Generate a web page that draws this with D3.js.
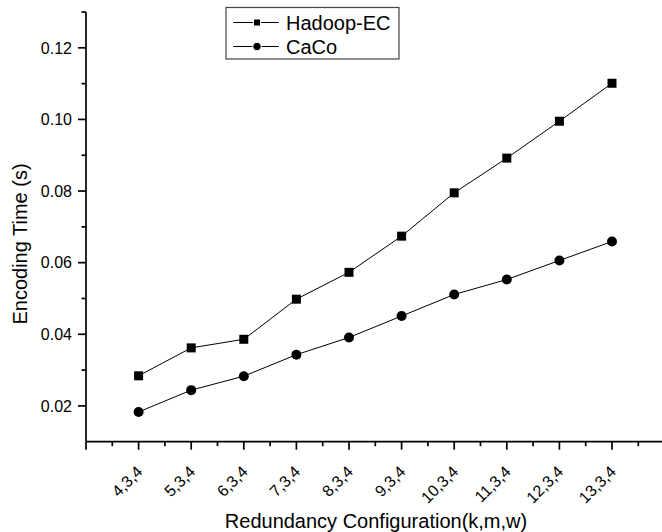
<!DOCTYPE html>
<html>
<head>
<meta charset="utf-8">
<script src="https://cdn.jsdelivr.net/npm/d3@7"></script>
<style>
  html, body { margin: 0; padding: 0; background: #fff; }
  svg { display: block; font-family: "Liberation Sans", Arial, sans-serif; }
</style>
</head>
<body>
<svg id="chart" width="662" height="532"></svg>
<script>
// ---- data ----
const categories = ["4,3,4","5,3,4","6,3,4","7,3,4","8,3,4","9,3,4","10,3,4","11,3,4","12,3,4","13,3,4"];
const categoryPos = [4,5,6,7,8,9,10,11,12,13];
const hadoopEC = [0.0284,0.0362,0.0386,0.0498,0.0573,0.0674,0.0795,0.0892,0.0995,0.1101];
const caco     = [0.0183,0.0244,0.0283,0.0343,0.0391,0.0451,0.0511,0.0553,0.0606,0.0659];
const seriesNames = ["Hadoop-EC","CaCo"];
const yTickValues = [0.02,0.04,0.06,0.08,0.10,0.12];
const yMinorValues = [0.03,0.05,0.07,0.09,0.11,0.13];
const xMinorValues = [3.5,4.5,5.5,6.5,7.5,8.5,9.5,10.5,11.5,12.5,13.5];
const xMajorValues = [3,4,5,6,7,8,9,10,11,12,13,14];

const svg = d3.select("#chart");
const x = d3.scaleLinear().domain([3, 14]).range([86, 664.6]);
const y = d3.scaleLinear().domain([0.01, 0.13]).range([441.7, 12]);

// ---- axes ----
const axisColor = "#000";
const gx = svg.append("g").attr("transform", `translate(0,${y(0.01)})`);
gx.append("line").attr("x1", x(3)).attr("x2", 662).attr("y1", 0).attr("y2", 0)
  .attr("stroke", axisColor).attr("stroke-width", 1.7);
gx.selectAll(".xmaj").data(xMajorValues).join("line")
  .attr("x1", d => x(d)).attr("x2", d => x(d)).attr("y1", 0).attr("y2", 8)
  .attr("stroke", axisColor).attr("stroke-width", 1.7);
gx.selectAll(".xmin").data(xMinorValues).join("line")
  .attr("x1", d => x(d)).attr("x2", d => x(d)).attr("y1", 0).attr("y2", 4.5)
  .attr("stroke", axisColor).attr("stroke-width", 1.7);
gx.selectAll(".xlab").data(categories).join("text")
  .attr("transform", (d, i) => `translate(${x(categoryPos[i]) + 5},${31}) rotate(-45)`)
  .attr("text-anchor", "end")
  .attr("font-size", 16)
  .attr("fill", "#000")
  .text(d => d);

const gy = svg.append("g").attr("transform", `translate(${x(3)},0)`);
gy.append("line").attr("x1", 0).attr("x2", 0).attr("y1", y(0.13)).attr("y2", y(0.01))
  .attr("stroke", axisColor).attr("stroke-width", 1.7);
gy.selectAll(".ymaj").data(yTickValues).join("line")
  .attr("x1", -8).attr("x2", 0).attr("y1", d => y(d)).attr("y2", d => y(d))
  .attr("stroke", axisColor).attr("stroke-width", 1.7);
gy.selectAll(".ymin").data(yMinorValues).join("line")
  .attr("x1", -4.5).attr("x2", 0).attr("y1", d => y(d)).attr("y2", d => y(d))
  .attr("stroke", axisColor).attr("stroke-width", 1.7);
gy.selectAll(".ylab").data(yTickValues).join("text")
  .attr("x", -14).attr("y", d => y(d)).attr("dy", "0.36em")
  .attr("text-anchor", "end").attr("font-size", 16).attr("fill", "#000")
  .text(d => d3.format(".2f")(d));

// axis titles
svg.append("text")
  .attr("transform", `translate(27,${244}) rotate(-90)`)
  .attr("text-anchor", "middle").attr("font-size", 20).attr("fill", "#000")
  .text("Encoding Time (s)");
svg.append("text")
  .attr("x", 376).attr("y", 528)
  .attr("text-anchor", "middle").attr("font-size", 20).attr("fill", "#000")
  .text("Redundancy Configuration(k,m,w)");

// ---- series ----
const line = d3.line().x((d, i) => x(categoryPos[i])).y(d => y(d));
const allSeries = [hadoopEC, caco];
allSeries.forEach((vals, si) => {
  svg.append("path").datum(vals).attr("d", line)
    .attr("fill", "none").attr("stroke", "#000").attr("stroke-width", 1);
});
svg.selectAll(".sq").data(hadoopEC).join("rect")
  .attr("x", (d, i) => x(categoryPos[i]) - 4.5).attr("y", d => y(d) - 4.5)
  .attr("width", 9).attr("height", 9).attr("fill", "#000");
svg.selectAll(".ci").data(caco).join("circle")
  .attr("cx", (d, i) => x(categoryPos[i])).attr("cy", d => y(d)).attr("r", 5)
  .attr("fill", "#000");

// ---- legend ----
const lg = svg.append("g");
lg.append("rect").attr("x", 226).attr("y", 7.5).attr("width", 173).attr("height", 51.5)
  .attr("fill", "#fff").attr("stroke", "#444").attr("stroke-width", 1.2);
const rowY = [22.5, 46.5];
seriesNames.forEach((name, i) => {
  lg.append("line").attr("x1", 233).attr("x2", 279).attr("y1", rowY[i]).attr("y2", rowY[i])
    .attr("stroke", "#000").attr("stroke-width", 1);
  if (i === 0) {
    lg.append("rect").attr("x", 253.5).attr("y", rowY[i] - 3.5).attr("width", 7).attr("height", 7)
      .attr("fill", "#000").attr("stroke", "#fff").attr("stroke-width", 1);
  } else {
    lg.append("circle").attr("cx", 257).attr("cy", rowY[i]).attr("r", 4.2)
      .attr("fill", "#000").attr("stroke", "#fff").attr("stroke-width", 1);
  }
  lg.append("text").attr("x", 286).attr("y", rowY[i]).attr("dy", "0.36em")
    .attr("font-size", 20).attr("fill", "#000").text(name);
});
</script>
</body>
</html>
